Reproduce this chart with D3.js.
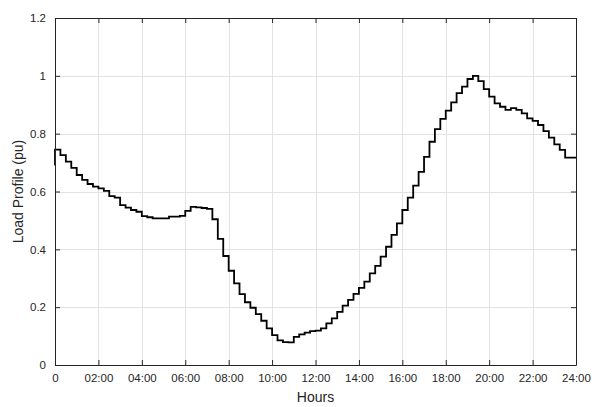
<!DOCTYPE html>
<html>
<head>
<meta charset="utf-8">
<script src="https://cdn.jsdelivr.net/npm/d3@7"></script>
<style>
  html, body { margin: 0; padding: 0; background: #fff; }
  svg { display: block; font-family: "Liberation Sans", Arial, sans-serif; }
</style>
</head>
<body>
<svg id="chart" width="594" height="407"></svg>
<script>
// load at t = 0, before the first quarter-hour step
const startLoad = 0.69

// quarter-hour load values (pu), 00:00 .. 23:45
const load = [
  0.745, 0.726, 0.703, 0.682, 0.657, 0.640, 0.626, 0.617,
  0.611, 0.602, 0.584, 0.579, 0.553, 0.544, 0.536, 0.530,
  0.515, 0.511, 0.507, 0.507, 0.507, 0.513, 0.513, 0.516,
  0.533, 0.547, 0.545, 0.543, 0.540, 0.504, 0.436, 0.377,
  0.326, 0.282, 0.245, 0.217, 0.198, 0.176, 0.153, 0.127,
  0.103, 0.085, 0.079, 0.078, 0.097, 0.106, 0.112, 0.117,
  0.119, 0.127, 0.144, 0.161, 0.184, 0.205, 0.225, 0.246,
  0.267, 0.288, 0.317, 0.343, 0.375, 0.409, 0.450, 0.490,
  0.536, 0.579, 0.620, 0.668, 0.720, 0.772, 0.816, 0.851,
  0.880, 0.908, 0.940, 0.963, 0.989, 1.000, 0.982, 0.954,
  0.928, 0.905, 0.893, 0.882, 0.888, 0.882, 0.870, 0.853,
  0.844, 0.830, 0.809, 0.786, 0.763, 0.744, 0.717, 0.717
]

const xTicks = [0, 2, 4, 6, 8, 10, 12, 14, 16, 18, 20, 22, 24]
const xTickLabels = ['0', '02:00', '04:00', '06:00', '08:00', '10:00', '12:00',
  '14:00', '16:00', '18:00', '20:00', '22:00', '24:00']
const yTicks = [0, 0.2, 0.4, 0.6, 0.8, 1, 1.2]

const margin = { left: 55, top: 18, right: 18, bottom: 42 }
const width = 594, height = 407
const axisColor = '#262626'

const svg = d3.select('#chart')

const x = d3.scaleLinear().domain([0, 24]).range([margin.left, width - margin.right])
const y = d3.scaleLinear().domain([0, 1.2]).range([height - margin.bottom, margin.top])

// grid
const grid = svg.append('g').attr('class', 'grid')
grid.selectAll('line.vx')
  .data(xTicks.slice(1, -1))
  .enter().append('line')
  .attr('x1', (d) => Math.round(x(d)) + 0.5).attr('x2', (d) => Math.round(x(d)) + 0.5)
  .attr('y1', y(1.2)).attr('y2', y(0))
  .attr('stroke', '#e3e3e3').attr('stroke-width', 1)
grid.selectAll('line.hy')
  .data(yTicks.slice(1, -1))
  .enter().append('line')
  .attr('y1', (d) => Math.round(y(d)) + 0.5).attr('y2', (d) => Math.round(y(d)) + 0.5)
  .attr('x1', x(0)).attr('x2', x(24))
  .attr('stroke', '#e3e3e3').attr('stroke-width', 1)

// load profile as stairs
const points = [{ t: 0, v: startLoad }]
load.forEach((v, i) => points.push({ t: i * 0.25, v }))
points.push({ t: 24, v: load[load.length - 1] })

const line = d3.line()
  .x((d) => x(d.t))
  .y((d) => y(d.v))
  .curve(d3.curveStepAfter)

svg.append('path')
  .datum(points)
  .attr('d', line)
  .attr('fill', 'none')
  .attr('stroke', '#000')
  .attr('stroke-width', 1.8)
  .attr('stroke-linejoin', 'miter')

// axes box with inward ticks on all sides
const fmtX = (d) => xTickLabels[xTicks.indexOf(d)]
const bottomAxis = d3.axisBottom(x).tickValues(xTicks).tickFormat(fmtX).tickSizeInner(-5).tickSizeOuter(0).tickPadding(9)
const topAxis = d3.axisTop(x).tickValues(xTicks).tickFormat('').tickSizeInner(-5).tickSizeOuter(0)
const leftAxis = d3.axisLeft(y).tickValues(yTicks).tickFormat(d3.format('~g')).tickSizeInner(-5).tickSizeOuter(0).tickPadding(9)
const rightAxis = d3.axisRight(y).tickValues(yTicks).tickFormat('').tickSizeInner(-5).tickSizeOuter(0)

function styleAxis(g) {
  g.select('.domain').attr('stroke', axisColor).attr('stroke-width', 1)
  g.selectAll('.tick line').attr('stroke', axisColor)
  g.selectAll('.tick text').attr('fill', axisColor).style('font-size', '11.5px')
}

svg.append('g').attr('transform', `translate(0,${y(0)})`).call(bottomAxis).call(styleAxis)
svg.append('g').attr('transform', `translate(0,${y(1.2)})`).call(topAxis).call(styleAxis)
svg.append('g').attr('transform', `translate(${x(0)},0)`).call(leftAxis).call(styleAxis)
svg.append('g').attr('transform', `translate(${x(24)},0)`).call(rightAxis).call(styleAxis)

// axis titles
svg.append('text')
  .attr('x', (x(0) + x(24)) / 2)
  .attr('y', 402)
  .attr('text-anchor', 'middle')
  .attr('fill', axisColor)
  .style('font-size', '14px')
  .text('Hours')

svg.append('text')
  .attr('transform', `translate(23,${(y(0) + y(1.2)) / 2}) rotate(-90)`)
  .attr('text-anchor', 'middle')
  .attr('fill', axisColor)
  .style('font-size', '14px')
  .text('Load Profile (pu)')
</script>
</body>
</html>
